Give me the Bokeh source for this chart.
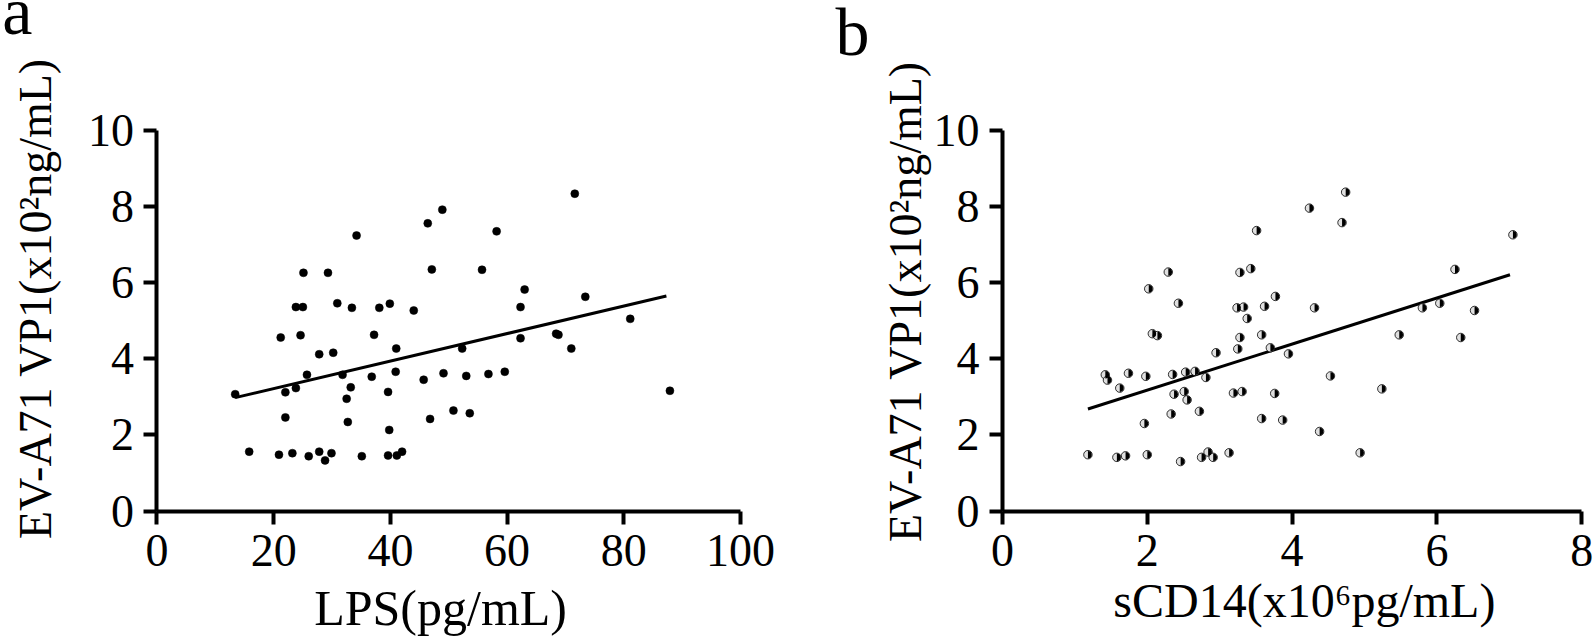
import math
from bokeh.plotting import figure
from bokeh.layouts import row
from bokeh.models import Range1d, Label, FixedTicker
from bokeh.embed import file_html
from bokeh.resources import INLINE

# ---------------- data ----------------
lps = [13.4, 15.8, 21.2, 20.9, 22.0, 22.0, 23.2, 23.8, 23.8, 24.6, 25.0, 25.1, 25.7, 26.0,
       27.8, 27.8, 28.8, 29.3, 29.9, 30.2, 30.9, 31.8, 32.5, 32.7, 33.2, 33.4, 34.2, 35.1,
       36.8, 37.2, 38.1, 39.6, 39.6, 39.8, 39.9, 40.9, 41.0, 41.1, 42.0, 44.0, 45.7, 46.4,
       46.8, 47.1, 48.9, 49.1, 50.8, 52.3, 53.0, 53.6, 55.7, 56.8, 58.2, 59.6, 62.3, 62.3,
       63.0, 68.4, 68.8, 71.0, 71.6, 73.4, 81.1, 87.9]
vp1_a = [3.07, 1.56, 4.56, 1.48, 3.12, 2.46, 1.52, 5.36, 3.23, 4.62, 5.36, 6.26, 3.58, 1.44,
         4.12, 1.56, 1.33, 6.26, 1.52, 4.16, 5.46, 3.58, 2.95, 2.34, 3.25, 5.34, 7.24, 1.44,
         3.53, 4.63, 5.34, 3.13, 1.46, 2.13, 5.45, 3.66, 4.27, 1.46, 1.56, 5.27, 3.45, 7.56,
         2.42, 6.35, 7.92, 3.62, 2.64, 4.27, 3.55, 2.57, 6.34, 3.60, 7.35, 3.66, 5.36, 4.54,
         5.82, 4.66, 4.63, 4.27, 8.34, 5.63, 5.05, 3.16]
fit_a_x = [13.4, 87.3]
fit_a_y = [2.98, 5.65]

scd14 = [3.51, 2.29, 3.28, 3.43, 2.02, 2.43, 3.24, 3.33, 3.62, 3.77, 3.38, 2.07, 2.14, 3.28,
         3.58, 3.25, 2.95, 3.70, 3.95, 1.42, 1.45, 1.74, 1.98, 1.62, 2.35, 2.53, 2.66, 2.81,
         2.37, 2.51, 2.55, 3.19, 3.31, 3.76, 2.33, 2.72, 1.96, 3.58, 3.87, 1.18, 1.58, 1.70,
         2.00, 2.46, 2.75, 2.84, 2.91, 3.13, 4.74, 4.24, 4.69, 7.05, 6.25, 4.31, 5.80, 6.04,
         6.52, 5.48, 6.33, 4.53, 5.24, 4.38, 4.94]
vp1_b = [7.37, 6.28, 6.27, 6.37, 5.84, 5.46, 5.34, 5.36, 5.38, 5.64, 5.06, 4.66, 4.61, 4.56,
         4.63, 4.26, 4.16, 4.29, 4.13, 3.58, 3.44, 3.62, 3.54, 3.23, 3.59, 3.65, 3.67, 3.51,
         3.07, 3.14, 2.92, 3.10, 3.14, 3.09, 2.55, 2.62, 2.30, 2.43, 2.39, 1.48, 1.41, 1.45,
         1.48, 1.30, 1.41, 1.55, 1.41, 1.53, 8.38, 7.96, 7.58, 7.26, 6.35, 5.34, 5.34, 5.46,
         5.27, 4.63, 4.56, 3.55, 3.21, 2.09, 1.53]
fit_b_x = [1.18, 7.01]
fit_b_y = [2.68, 6.21]

y_ticks = [0, 2, 4, 6, 8, 10]
x_ticks_a = [0, 20, 40, 60, 80, 100]
x_ticks_b = [0, 2, 4, 6, 8]

y_title = "EV-A71 VP1(x10²ng/mL)"
x_title_a = "LPS(pg/mL)"
x_title_b = "sCD14(x10⁶pg/mL)"
panel_a = "a"
panel_b = "b"

FONT = "Liberation Serif"


def make_fig(width, xr, yr, xticks, xbounds):
    p = figure(width=width, height=639, x_range=xr, y_range=yr, title=None,
               min_border=0, min_border_left=0, min_border_right=0,
               min_border_top=0, min_border_bottom=0,
               output_backend="svg", toolbar_location=None)
    p.grid.visible = False
    p.outline_line_color = None
    p.background_fill_color = "white"
    p.border_fill_color = "white"
    for ax in (p.xaxis, p.yaxis):
        ax.fixed_location = 0
        ax.axis_line_width = 4
        ax.axis_line_color = "black"
        ax.major_tick_line_width = 4
        ax.major_tick_line_color = "black"
        ax.major_tick_out = 13
        ax.major_tick_in = 0
        ax.minor_tick_out = 0
        ax.minor_tick_in = 0
        ax.major_label_text_font = FONT
        ax.major_label_text_font_size = "46px"
        ax.major_label_text_color = "black"
    p.xaxis.bounds = xbounds
    p.yaxis.bounds = (0, 10)
    p.xaxis.ticker = FixedTicker(ticks=xticks)
    p.yaxis.ticker = FixedTicker(ticks=y_ticks)
    p.xaxis.major_label_standoff = 11
    p.yaxis.major_label_standoff = 10
    return p


def add_text(p, x, y, text, size, angle=0.0, align="center", baseline="alphabetic"):
    p.add_layout(Label(x=x, y=y, text=text, angle=angle, text_align=align,
                       text_baseline=baseline, text_font=FONT,
                       text_font_size=size, text_color="black"))


# ---------------- panel a ----------------
pa = make_fig(800, Range1d(-26.82, 110.28), Range1d(-3.377, 13.417), x_ticks_a, (0, 100))
pa.line(fit_a_x, fit_a_y, line_color="black", line_width=3)
pa.scatter(lps, vp1_a, size=8, fill_color="black", line_color="black", line_width=0.5)
add_text(pa, -20.9, 5.585, y_title, "46px", angle=math.pi / 2, baseline="middle")
add_text(pa, 48.6, -2.537, x_title_a, "50px")
add_text(pa, -26.5, 13.137, panel_a, "68px", align="left")

# ---------------- panel b ----------------
pb = make_fig(794, Range1d(-2.790, 8.177), Range1d(-3.377, 13.417), x_ticks_b, (0, 8))
pb.line(fit_b_x, fit_b_y, line_color="black", line_width=3)
pb.scatter(scd14, vp1_b, size=8.5, fill_color="#e0e0e0", line_color="black", line_width=0.8)
pb.wedge(scd14, vp1_b, radius=3.8, radius_units="screen", start_angle=-math.pi / 2,
         end_angle=math.pi / 2, fill_color="black", line_color=None)
add_text(pb, -1.34, 5.506, y_title, "46px", angle=math.pi / 2, baseline="middle")
add_text(pb, 4.17, -2.357, x_title_b, "48px")
add_text(pb, -2.307, 12.60, panel_b, "68px", align="left")

layout = row(pa, pb)
open("out.html", "w").write(file_html(layout, INLINE))
